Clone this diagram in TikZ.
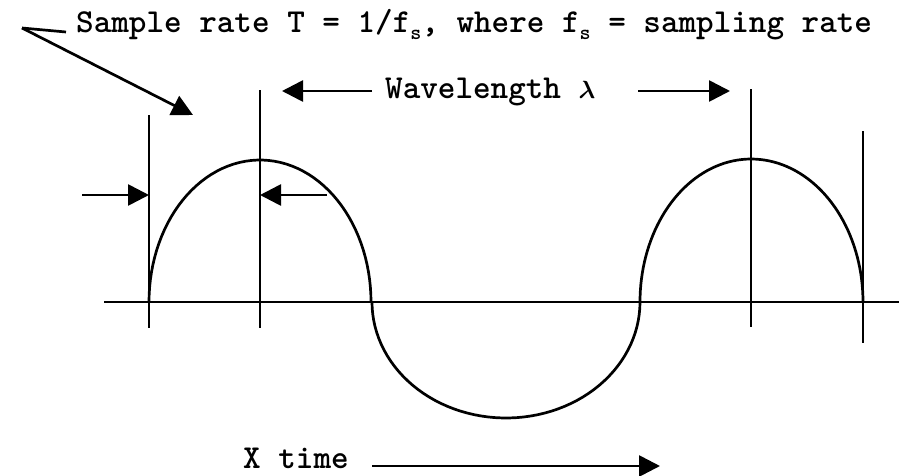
\documentclass[tikz,border=0pt]{standalone}
\usetikzlibrary{arrows.meta}
\begin{document}
\begin{tikzpicture}[x=1pt,y=-1pt,
  ln/.style={line width=2.7pt},
  arr/.style={line width=2.7pt,-{Triangle[length=21pt,width=21pt]}},
  lbl/.style={font=\fontsize{33.5}{36}\selectfont\ttfamily\bfseries, inner sep=0pt, anchor=base west}]
\useasboundingbox (0,0) rectangle (899,475);
\newcommand\subs{\raisebox{-0.22em}{\fontsize{21}{21}\selectfont s}}
% texts
\node[lbl] (title) at (76,32) {Sample rate T = 1/f\subs, where f\subs\ = sampling rate};
\node[lbl] (wl) at (385,98) {Wavelength {\boldmath$\lambda$}};
\node[lbl] (xt) at (243,468) {X time};
% pointer V
\coordinate (vtip) at (22,28);
\coordinate (varm) at (66,32);
\coordinate (vhead) at (193,115);
\draw[ln] (varm) -- (vtip);
\draw[arr] (vtip) -- (vhead);
% axis
\coordinate (axL) at (104,302);
\coordinate (axR) at (899,302);
\draw[ln] (axL) -- (axR);
% vertical lines
\coordinate (v1t) at (149,115); \coordinate (v1b) at (149,328);
\coordinate (v2t) at (260,90);  \coordinate (v2b) at (260,328);
\coordinate (v3t) at (751,89);  \coordinate (v3b) at (751,327);
\coordinate (v4t) at (863,131); \coordinate (v4b) at (863,343);
\draw[ln] (v1t) -- (v1b);
\draw[ln] (v2t) -- (v2b);
\draw[ln] (v3t) -- (v3b);
\draw[ln] (v4t) -- (v4b);
% sample period arrows
\coordinate (sa1) at (82,195);
\coordinate (sa2) at (327,195);
\draw[arr] (sa1) -- (v1t |- sa1);
\draw[arr] (sa2) -- (v2t |- sa2);
% wavelength arrows
\coordinate (wlA) at (372,91);
\coordinate (wlB) at (638,91);
\draw[arr] (wlA) -- (282,91);
\draw[arr] (wlB) -- (730,91);
% time arrow
\coordinate (tA) at (372,466);
\coordinate (tB) at (660,466);
\draw[arr] (tA) -- (tB);
% waveform
\draw[ln] plot[domain=180:0, samples=60] ({260+111*cos(\x)},{302-142*sin(\x)});
\draw[ln] plot[domain=180:360, samples=60] ({506+134*cos(\x)},{302-116*sin(\x)});
\draw[ln] plot[domain=180:90, samples=40] ({751+111*cos(\x)},{302-143*sin(\x)});
\draw[ln] plot[domain=90:0, samples=40] ({751+112*cos(\x)},{302-143*sin(\x)});
\end{tikzpicture}
\end{document}
